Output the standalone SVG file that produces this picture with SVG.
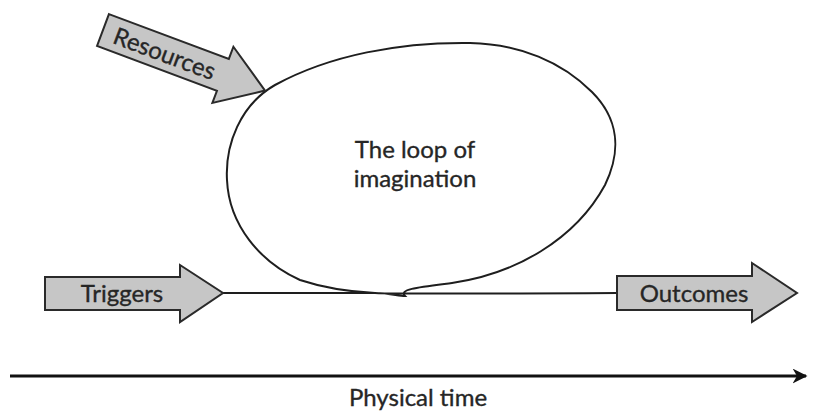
<svg xmlns="http://www.w3.org/2000/svg" width="813" height="412" viewBox="0 0 813 412">
<style>
.arrow{fill:#c6c6c6;stroke:#2a2a2a;stroke-width:2;stroke-linejoin:miter}
.lbl{font-family:Lato,"Open Sans","Liberation Sans",sans-serif;fill:#262626;font-size:24px;stroke:#262626;stroke-width:0.35}
.line{fill:none;stroke:#1e1e1e;stroke-width:2}
</style>
<defs>
<marker id="head" viewBox="0 0 10 10" refX="9" refY="5" markerWidth="5" markerHeight="5" orient="auto" markerUnits="strokeWidth">
<path d="M0,0 L10,5 L0,10 L3,5 Z" fill="#111"/>
</marker>
</defs>
<rect width="813" height="412" fill="#fff"/>
<g id="connectors">
<path class="line" d="M223,293 L375,293 C390,293 398,296 405,296 C398,289 420,287 452,283 C515,274 575,240 605,185 C622,150 618,118 592,92 C562,62 520,44 470,43 C400,42 330,55 275,85 C240,105 225,145 227,180 C229,225 260,262 300,280 C330,290 355,292 375,293 C395,294 420,294 617,293"/>
<line x1="10" y1="376" x2="806" y2="376" stroke="#111" stroke-width="3" marker-end="url(#head)"/>
</g>
<g id="triggers">
<path class="arrow" d="M45,277 L180,277 L180,265 L223,293 L180,322 L180,310 L45,310 Z"/>
<text class="lbl" x="122" y="302" text-anchor="middle">Triggers</text>
</g>
<g id="outcomes">
<path class="arrow" d="M617,276 L752,276 L752,263 L797,293 L752,322 L752,310 L617,310 Z"/>
<text class="lbl" x="694" y="302" text-anchor="middle">Outcomes</text>
</g>
<g id="resources" transform="translate(103,30) rotate(20.5)">
<path class="arrow" d="M0,-17 L128,-17 L128,-30 L173,0 L128,30 L128,17 L0,17 Z"/>
<text class="lbl" x="66" y="9" text-anchor="middle">Resources</text>
</g>
<g id="loop-label">
<text class="lbl" x="415" y="158" text-anchor="middle">The loop of</text>
<text class="lbl" x="415" y="187" text-anchor="middle">imagination</text>
</g>
<g id="time-label">
<text class="lbl" x="418" y="406" text-anchor="middle">Physical time</text>
</g>
</svg>
